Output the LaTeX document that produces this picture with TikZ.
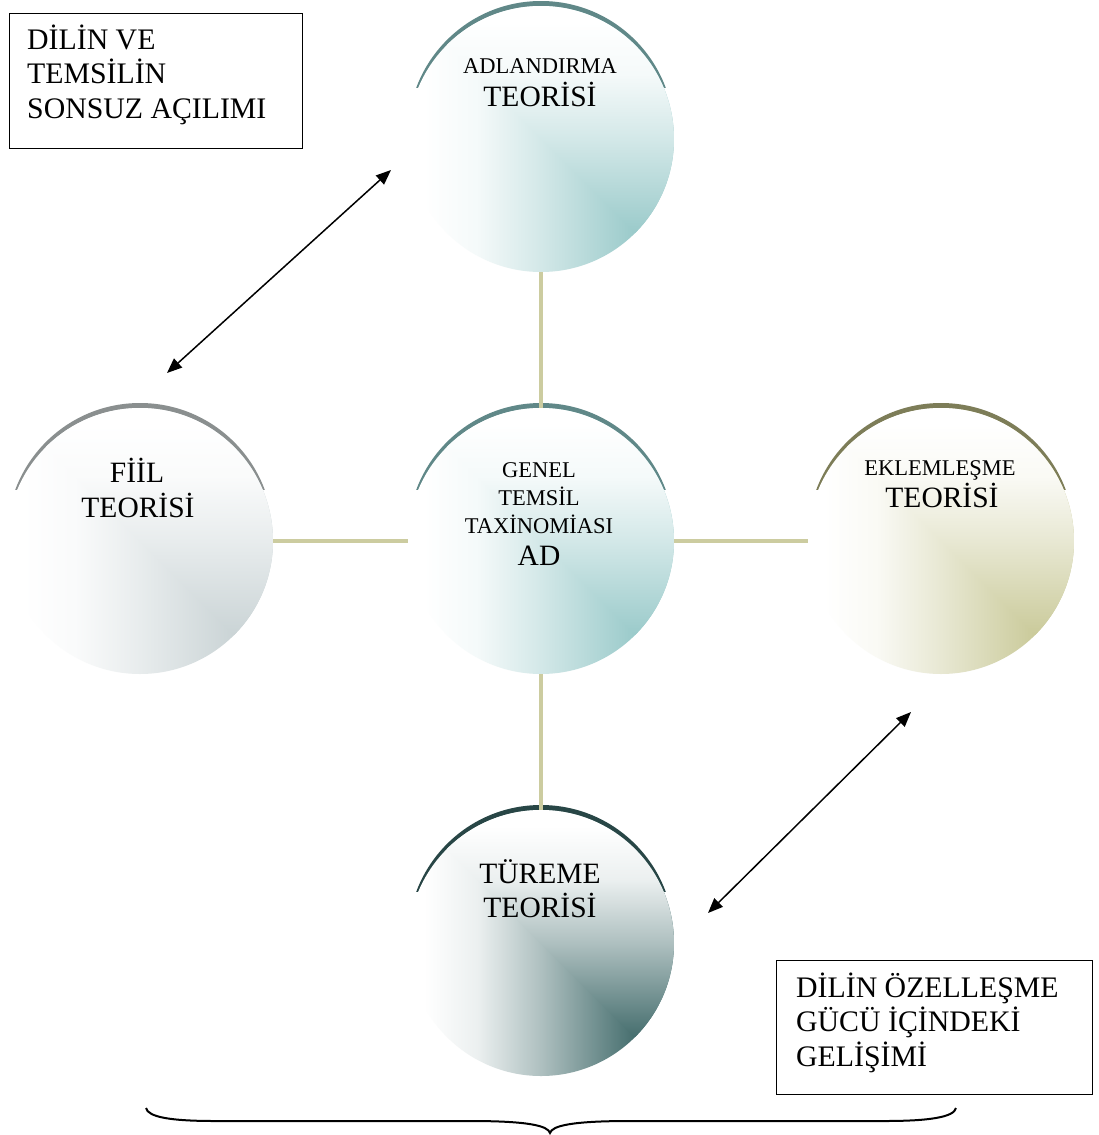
\documentclass[tikz,border=0pt]{standalone}
\usepackage{fontspec}
\setmainfont{Liberation Serif}
\usetikzlibrary{arrows.meta}
\definecolor{cTeal}{RGB}{150,200,200}
\definecolor{aTeal}{RGB}{96,136,136}
\definecolor{cGrey}{RGB}{200,210,212}
\definecolor{aGrey}{RGB}{138,143,143}
\definecolor{cOlive}{RGB}{200,200,150}
\definecolor{aOlive}{RGB}{125,125,88}
\definecolor{cSlate}{RGB}{62,104,104}
\definecolor{aSlate}{RGB}{40,70,70}
\definecolor{khaki}{RGB}{204,204,160}
\colorlet{cgrad}{cTeal}
\pgfdeclareverticalshading[cgrad]{cvert}{100bp}{color(0bp)=(cgrad); color(31bp)=(cgrad); color(50bp)=(cgrad!42!white); color(62bp)=(cgrad!10!white); color(72bp)=(white); color(100bp)=(white)}
\pgfdeclarehorizontalshading[cgrad]{chorz}{100bp}{color(0bp)=(white); color(28bp)=(white); color(38bp)=(cgrad!10!white); color(50bp)=(cgrad!42!white); color(69bp)=(cgrad); color(100bp)=(cgrad)}
\newcommand{\fancyball}[5]{%
  \begin{scope}
    \clip (#2-150,#3-150) rectangle (#2+150,#3-52);
    \fill[#5] (#2,#3-5) circle[radius=133];
  \end{scope}
  \colorlet{cgrad}{#4}%
  \begin{scope}
    \clip (#2,#3) circle[radius=133];
    \shade[shading=chorz] (#2-133,#3-133) rectangle (#2+133,#3+133);
    \begin{scope}
      \clip (#2+133,#3+133) -- (#2-133,#3-133) -- (#2+133,#3-133) -- cycle;
      \shade[shading=cvert] (#2-133,#3-133) rectangle (#2+133,#3+133);
    \end{scope}
  \end{scope}
  \node[ball] (#1) at (#2,#3) {};
}
\begin{document}
\begin{tikzpicture}[x=1pt,y=-1pt,
  ball/.style={circle, minimum size=266pt, inner sep=0pt, draw=none},
  conn/.style={draw=khaki, line width=4pt},
  arr/.style={<->, line width=1.5pt, >={Triangle[length=15pt,width=12pt]}},
  small/.style={font=\fontsize{22.5}{28}\selectfont, inner sep=0pt, anchor=base},
  big/.style={font=\fontsize{29.5}{34}\selectfont, inner sep=0pt, anchor=base},
  boxnode/.style={draw, line width=1.4pt, anchor=north west, inner sep=0pt},
  boxtext/.style={font=\fontsize{29.8}{34.5}\selectfont, align=left, inner sep=0pt, anchor=base west}]
\useasboundingbox (0,0) rectangle (1098,1135);
\fill[white] (0,0) rectangle (1098,1135);

\fancyball{top}{541}{139}{cTeal}{aTeal}
\fancyball{center}{541}{541}{cTeal}{aTeal}
\fancyball{left}{140}{541}{cGrey}{aGrey}
\fancyball{right}{941}{541}{cOlive}{aOlive}
\fancyball{bottom}{541}{943}{cSlate}{aSlate}

\draw[conn] (top) -- (center);
\draw[conn] (left) -- (center);
\draw[conn] (center) -- (right);
\draw[conn] (center) -- (bottom);

\node[small] (topA) at (540,73) {ADLANDIRMA};
\node[big] (topB) at (540,106) {TEORİSİ};
\node[small] (cenA) at (539,477) {GENEL};
\node[small] (cenB) at (539,505) {TEMSİL};
\node[small] (cenC) at (539,533) {TAXİNOMİASI};
\node[big] (cenD) at (539,565) {AD};
\node[big] (lefA) at (137,482) {FİİL};
\node[big] (lefB) at (138,517) {TEORİSİ};
\node[small] (rigA) at (940,475) {EKLEMLEŞME};
\node[big] (rigB) at (942,507) {TEORİSİ};
\node[big] (botA) at (540,883) {TÜREME};
\node[big] (botB) at (540,917) {TEORİSİ};

\node[boxnode, minimum width=293pt, minimum height=135pt] (box1) at (8.5,12.5) {};
\node[boxtext] (box1t) at (27,118) {DİLİN VE\\TEMSİLİN\\SONSUZ AÇILIMI};
\node[boxnode, minimum width=316pt, minimum height=134pt] (box2) at (776,960) {};
\node[boxtext] (box2t) at (796,1066) {DİLİN ÖZELLEŞME\\GÜCÜ İÇİNDEKİ\\GELİŞİMİ};

\coordinate (a1s) at (167,373);
\coordinate (a1e) at (391,170);
\coordinate (a2s) at (708,913);
\coordinate (a2e) at (911,712);
\draw[arr] (a1s) -- (a1e);
\draw[arr] (a2s) -- (a2e);

\draw[line width=2pt] (146,1108) .. controls (148,1117) and (170,1121) .. (215,1121) -- (470,1121) .. controls (530,1121) and (548,1126) .. (550,1133) .. controls (552,1126) and (570,1121) .. (630,1121) -- (885,1121) .. controls (930,1121) and (954,1117) .. (956,1108);
\end{tikzpicture}
\end{document}
